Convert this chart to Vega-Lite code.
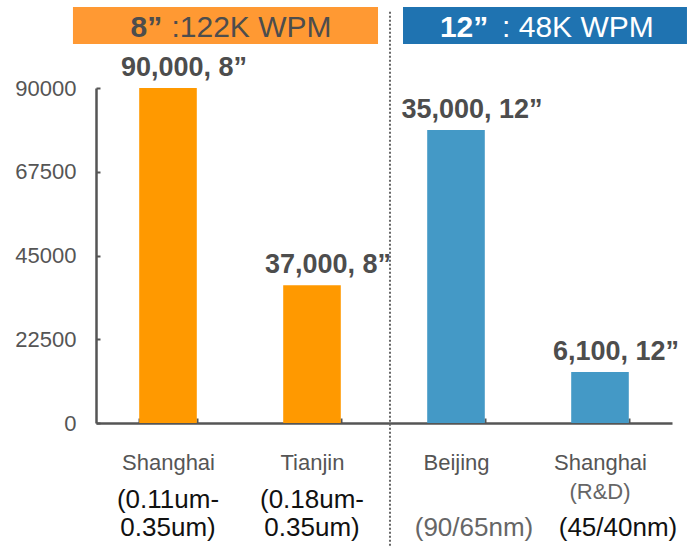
{
  "$schema": "https://vega.github.io/schema/vega-lite/v6.json",
  "width": 576,
  "height": 335,
  "autosize": "none",
  "padding": {"left": 96, "top": 88, "right": 15, "bottom": 123},
  "background": "white",
  "config": {"view": {"stroke": null}, "font": "Liberation Sans"},
  "datasets": {
    "fabs": [
      {"site": "Shanghai", "equiv8": 90000, "label": "90,000, 8”", "wafer": "8”"},
      {"site": "Tianjin", "equiv8": 37000, "label": "37,000, 8”", "wafer": "8”"},
      {"site": "Beijing", "equiv8": 78750, "label": "35,000, 12”", "wafer": "12”"},
      {"site": "Shanghai R&D", "equiv8": 13725, "label": "6,100, 12”", "wafer": "12”"}
    ]
  },
  "resolve": {"axis": {"x": "independent", "y": "shared"}},
  "layer": [
    {
      "data": {"name": "fabs"},
      "mark": {"type": "bar"},
      "encoding": {
        "x": {
          "field": "site", "type": "nominal", "sort": null,
          "scale": {"domain": ["Shanghai", "Tianjin", "Beijing", "Shanghai R&D"], "paddingInner": 0.6, "paddingOuter": 0.3},
          "axis": {
            "orient": "bottom", "title": null, "labelAngle": 0,
            "labelExpr": "datum.value == 'Shanghai R&D' ? 'Shanghai' : datum.value",
            "labelFontSize": 22, "labelColor": "#555", "labelPadding": 34,
            "ticks": true, "tickBand": "extent", "tickSize": -5, "tickWidth": 2, "tickColor": "#555",
            "domainColor": "#555", "domainWidth": 2.5
          }
        },
        "y": {
          "field": "equiv8", "type": "quantitative",
          "scale": {"domain": [0, 90000], "nice": false},
          "axis": {
            "title": null, "grid": false, "values": [0, 22500, 45000, 67500, 90000], "format": "d",
            "labelFontSize": 22, "labelColor": "#555", "labelPadding": 24,
            "ticks": true, "tickSize": -4, "tickWidth": 2, "tickColor": "#555",
            "domainColor": "#555", "domainWidth": 2.5
          }
        },
        "color": {
          "field": "wafer", "type": "nominal",
          "scale": {"domain": ["8”", "12”"], "range": ["#FF9900", "#4499C6"]},
          "legend": null
        }
      }
    },
    {
      "data": {"name": "fabs"},
      "mark": {"type": "text", "fontSize": 27, "fontWeight": "bold", "color": "#4D4D4D", "baseline": "alphabetic", "dy": -12, "dx": 16},
      "encoding": {
        "x": {
          "field": "site", "type": "nominal",
          "axis": {
            "orient": "bottom", "title": null, "labelAngle": 0, "domain": false, "ticks": false,
            "labelExpr": "datum.value == 'Shanghai' ? ['(0.11um-', '0.35um)'] : datum.value == 'Tianjin' ? ['(0.18um-', '0.35um)'] : datum.value == 'Beijing' ? ['', '(90/65nm)'] : ['', '(45/40nm)']",
            "labelFontSize": 26, "labelLineHeight": 28, "labelPadding": 63,
            "labelColor": {"condition": {"test": "datum.value == 'Beijing'", "value": "#666"}, "value": "#111"},
            "labelOffset": {"condition": {"test": "datum.value == 'Beijing' || datum.value == 'Shanghai R&D'", "value": 18}, "value": 0}
          }
        },
        "y": {"field": "equiv8", "type": "quantitative", "title": null},
        "text": {"field": "label"}
      }
    },
    {
      "data": {"values": [{"site": "Beijing"}]},
      "mark": {"type": "rule", "strokeDash": [2, 2], "strokeWidth": 2, "color": "#666"},
      "encoding": {
        "x": {
          "field": "site", "type": "nominal", "bandPosition": -0.646,
          "axis": {
            "orient": "bottom", "title": null, "labelAngle": 0, "domain": false, "ticks": false,
            "labelExpr": "datum.value == 'Shanghai R&D' ? '(R&D)' : ''",
            "labelFontSize": 22, "labelColor": "#666", "labelPadding": 58
          }
        },
        "y": {"datum": -33000, "type": "quantitative", "title": null},
        "y2": {"datum": 110900}
      }
    },
    {
      "data": {"values": [{"from": "Shanghai", "to": "Tianjin", "size": "8”", "rest": ":122K WPM"}]},
      "layer": [
        {
          "mark": {"type": "rect", "color": "#FF9933"},
          "encoding": {
            "x": {"field": "from", "type": "nominal", "bandPosition": -1.15, "axis": null},
            "x2": {"field": "to", "bandPosition": 1.646},
            "y": {"datum": 101800, "type": "quantitative", "title": null},
            "y2": {"datum": 111760}
          }
        },
        {
          "mark": {"type": "text", "fontSize": 30, "fontWeight": "bold", "color": "#4D4D4D", "align": "right", "baseline": "alphabetic"},
          "encoding": {
            "x": {"field": "from", "type": "nominal", "bandPosition": 0.4, "axis": null},
            "y": {"datum": 103700, "type": "quantitative", "title": null},
            "text": {"field": "size"}
          }
        },
        {
          "mark": {"type": "text", "fontSize": 30, "color": "#4D4D4D", "align": "left", "baseline": "alphabetic"},
          "encoding": {
            "x": {"field": "from", "type": "nominal", "bandPosition": 0.56, "axis": null},
            "y": {"datum": 103700, "type": "quantitative", "title": null},
            "text": {"field": "rest"}
          }
        }
      ]
    },
    {
      "data": {"values": [{"from": "Beijing", "to": "Shanghai R&D", "size": "12”", "rest": ": 48K WPM"}]},
      "layer": [
        {
          "mark": {"type": "rect", "color": "#1F73B1"},
          "encoding": {
            "x": {"field": "from", "type": "nominal", "bandPosition": -0.42, "axis": null},
            "x2": {"field": "to", "bandPosition": 2.01},
            "y": {"datum": 101800, "type": "quantitative", "title": null},
            "y2": {"datum": 111760}
          }
        },
        {
          "mark": {"type": "text", "fontSize": 30, "fontWeight": "bold", "color": "white", "align": "right", "baseline": "alphabetic"},
          "encoding": {
            "x": {"field": "from", "type": "nominal", "bandPosition": 1.06, "axis": null},
            "y": {"datum": 103700, "type": "quantitative", "title": null},
            "text": {"field": "size"}
          }
        },
        {
          "mark": {"type": "text", "fontSize": 30, "color": "white", "align": "left", "baseline": "alphabetic"},
          "encoding": {
            "x": {"field": "from", "type": "nominal", "bandPosition": 1.3, "axis": null},
            "y": {"datum": 103700, "type": "quantitative", "title": null},
            "text": {"field": "rest"}
          }
        }
      ]
    }
  ]
}
